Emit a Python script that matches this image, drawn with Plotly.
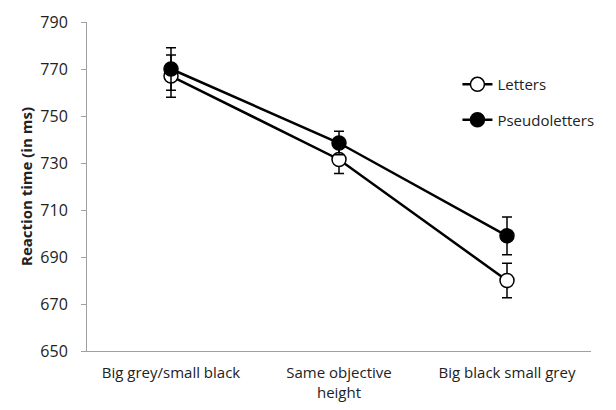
import plotly.graph_objects as go

categories = ["Big grey/small black", "Same objective<br>height", "Big black small grey"]
letters = [767, 731.5, 680]
letters_err = [9, 6, 7.3]
pseudo = [770, 738.5, 699]
pseudo_err = [9, 5, 8]
y_ticks = [650, 670, 690, 710, 730, 750, 770, 790]

font_family = "Open Sans, Lato, sans-serif"

fig = go.Figure()
fig.add_trace(go.Scatter(
    x=categories, y=letters, name="Letters", mode="lines+markers",
    line=dict(color="black", width=2.5),
    marker=dict(size=14, color="white", line=dict(color="black", width=1.5)),
    error_y=dict(type="data", array=letters_err, color="black", thickness=1.5, width=5),
    legendgroup="a",
))
fig.add_trace(go.Scatter(
    x=categories, y=pseudo, name="Pseudoletters", mode="lines+markers",
    line=dict(color="black", width=2.5),
    marker=dict(size=14, color="black", line=dict(color="black", width=1.5)),
    error_y=dict(type="data", array=pseudo_err, color="black", thickness=1.5, width=5),
    legendgroup="b",
))

fig.update_layout(
    width=608, height=402,
    margin=dict(l=79, r=25, t=14, b=59),
    paper_bgcolor="white", plot_bgcolor="white",
    font=dict(family=font_family, size=15, color="#222"),
    legend=dict(x=0.735, y=0.86, xanchor="left", yanchor="top",
                bgcolor="rgba(0,0,0,0)", font=dict(size=15),
                tracegroupgap=13, traceorder="grouped"),
    showlegend=True,
)
fig.update_xaxes(
    range=[-0.5, 2.5],
    showline=True, linecolor="#a0a0a0", linewidth=1,
    ticks="", showgrid=False, zeroline=False,
    ticklabelstandoff=8,
    tickfont=dict(size=15), automargin=False,
)
fig.update_yaxes(
    range=[650, 790], tickvals=y_ticks,
    showline=True, linecolor="#a0a0a0", linewidth=1,
    ticks="outside", tickcolor="#a0a0a0", ticklen=5,
    ticklabelstandoff=10,
    showgrid=False, zeroline=False,
    title=dict(text="<b>Reaction time (in ms)</b>", font=dict(size=15), standoff=4),
    tickfont=dict(size=16), automargin=False,
)

fig.write_html("out.html")
